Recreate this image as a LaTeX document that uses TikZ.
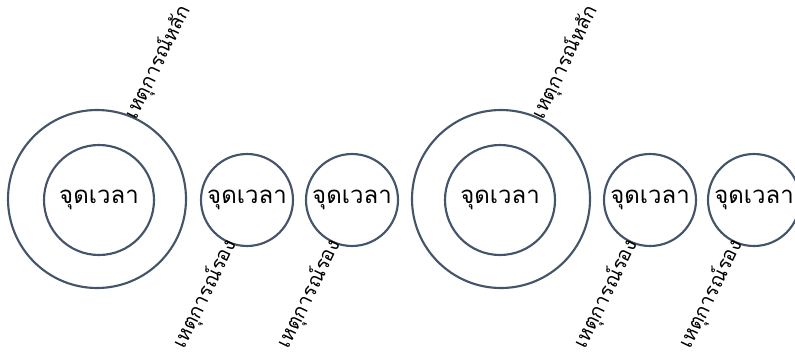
\documentclass[tikz,border=0pt]{standalone}
\usepackage{fontspec}
\newfontfamily\thaifont[Script=Thai]{Loma}
\usepackage{tikz}
\usetikzlibrary{positioning}
\definecolor{RingSlate}{HTML}{44546A}
\tikzset{
  % Base ring
  RG/.style={circle,draw=RingSlate,line width=1.6pt,inner sep=0pt,
             text=black,font=\thaifont\fontsize{18}{22}\selectfont},
  % Size variants
  rBig/.style={RG,minimum size=133.5pt},
  rIn/.style={RG,minimum size=82.5pt},
  rSm/.style={RG,minimum size=69pt},
  % Label styles
  LM/.style={rotate=64,inner sep=0pt,font=\thaifont\fontsize{15}{18}\selectfont},
  LS/.style={LM}
}
\begin{document}
\begin{tikzpicture}[x=0.75pt,y=-0.75pt]
  \useasboundingbox (0,0) rectangle (795,354);

  % first group
  \node[rBig] (outA) at (97,199) {};
  \node[rIn]  (inA)  at (99,200) {จุดเวลา};
  \node[rSm]  (ptB)  at (247,200) {จุดเวลา};
  \node[rSm]  (ptC)  at (352,200) {จุดเวลา};

  % second group
  \node[rBig] (outD) at (501,199) {};
  \node[rIn]  (inD)  at (500,200) {จุดเวลา};
  \node[rSm]  (ptE)  at (650,200) {จุดเวลา};
  \node[rSm]  (ptF)  at (754,200) {จุดเวลา};

  % event labels
  \node[LM] (mainA) at (158,62)  {เหตุการณ์หลัก};
  \node[LM] (mainD) at (565,62)  {เหตุการณ์หลัก};
  \node[LS] (subB)  at (205,294) {เหตุการณ์รอง};
  \node[LS] (subC)  at (309,294) {เหตุการณ์รอง};
  \node[LS] (subE)  at (606,294) {เหตุการณ์รอง};
  \node[LS] (subF)  at (711,294) {เหตุการณ์รอง};
\end{tikzpicture}
\end{document}
